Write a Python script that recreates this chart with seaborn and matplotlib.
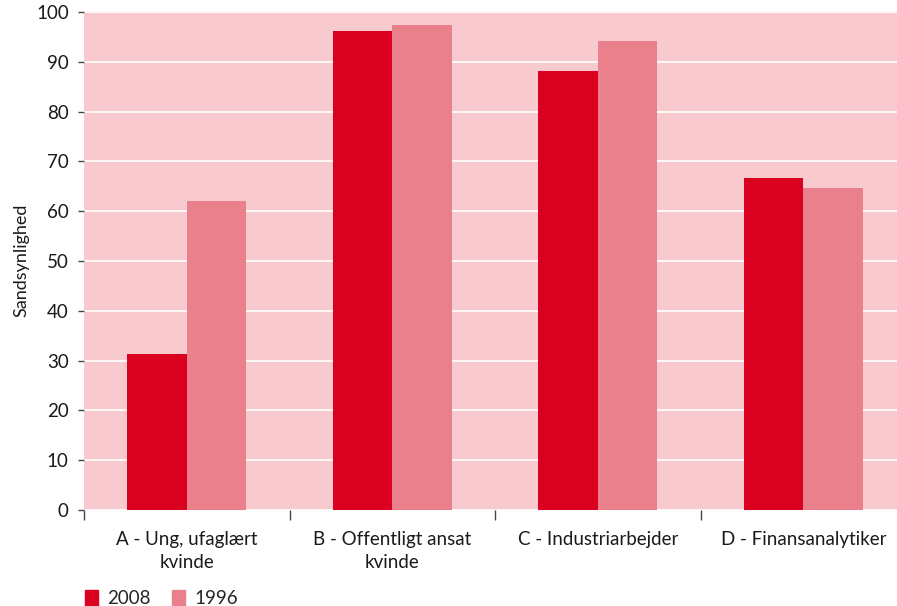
import numpy as np
import pandas as pd
import matplotlib
matplotlib.use("Agg")
import matplotlib.pyplot as plt
import seaborn as sns

# data
categories = ["A - Ung, ufaglært\nkvinde", "B - Offentligt ansat\nkvinde",
              "C - Industriarbejder", "D - Finansanalytiker"]
years = ["2008", "1996"]
values_2008 = [31.3, 96.2, 88.2, 66.6]
values_1996 = [62.0, 97.4, 94.2, 64.6]
y_ticks = [0, 10, 20, 30, 40, 50, 60, 70, 80, 90, 100]

colors = {"2008": "#DA001F", "1996": "#EB808D"}
bg = "#F8CAD0"

df = pd.DataFrame({
    "kategori": categories * 2,
    "aar": [years[0]] * 4 + [years[1]] * 4,
    "vaerdi": values_2008 + values_1996,
})

sns.set_theme(style="white")
plt.rcParams["font.family"] = ["Lato", "DejaVu Sans"]

fig = plt.figure(figsize=(8.97, 6.06), dpi=100)
ax = fig.add_axes([84 / 897, 1 - 510 / 606, 1 - 84 / 897, (510 - 11) / 606])
ax.set_facecolor(bg)

sns.barplot(data=df, x="kategori", y="vaerdi", hue="aar", hue_order=years,
            palette=colors, saturation=1, width=0.58, gap=0, ax=ax,
            legend=False, linewidth=0, zorder=3)

ax.set_ylim(0, 100.2)
ax.set_xlim(-0.5, 3.456)
ax.set_yticks(y_ticks)
ax.yaxis.grid(True, color="white", linewidth=1.2, zorder=0)
ax.set_axisbelow(True)
for s in ax.spines.values():
    s.set_visible(False)

ax.tick_params(axis="y", left=True, length=4, width=1, color="#444444",
               pad=7, labelsize=13.5, labelcolor="#1a1a1a")
ax.tick_params(axis="x", which="major", bottom=False, length=0, pad=15,
               labelsize=13.5, labelcolor="#1a1a1a")
for lbl in ax.get_xticklabels():
    lbl.set_linespacing(1.45)
ax.set_xticks([-0.5, 0.5, 1.5, 2.5], minor=True)
ax.tick_params(axis="x", which="minor", bottom=True, length=7, width=1,
               color="#444444")

ax.set_xlabel("")
ax.set_ylabel("Sandsynlighed", fontsize=13, color="#1a1a1a", labelpad=5)

handles = [plt.Rectangle((0, 0), 1, 1, color=colors[y]) for y in years]
fig.legend(handles, years, loc="lower left", bbox_to_anchor=(68 / 897, -0.03),
           ncol=2, frameon=False, fontsize=13.5, handlelength=0.7,
           handleheight=0.9, handletextpad=0.5, columnspacing=1.1)

fig.savefig("out.png", dpi=100)
